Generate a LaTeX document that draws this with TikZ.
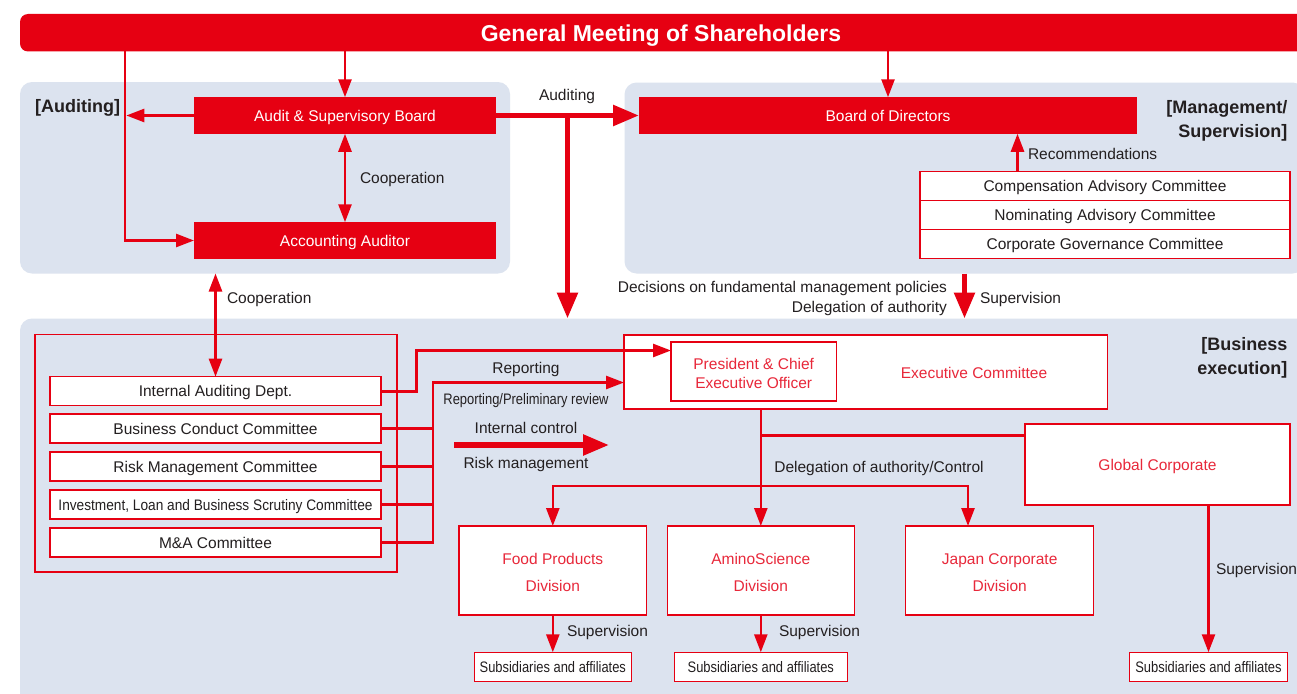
\documentclass[tikz,border=0pt]{standalone}
\usepackage{fontspec}
\setmainfont{Liberation Sans}
\newfontfamily\narrowsf{Liberation Sans}[FakeStretch=0.85]
\newfontfamily\semisf{Liberation Sans}[FakeStretch=0.9]
\usetikzlibrary{arrows.meta}

\definecolor{cred}{HTML}{E60012}
\definecolor{redtxt}{HTML}{E8283A}
\definecolor{panelbg}{HTML}{DCE3EF}
\definecolor{txt}{HTML}{231F20}

\tikzset{
  lbl/.style={font=\fontsize{15.5}{18}\selectfont, text=txt, inner sep=0pt,
    outer sep=0pt, text height=11.2pt, text depth=0pt},
  narrowlbl/.style={lbl, font=\narrowsf\fontsize{15.2}{18}\selectfont},
  redbox/.style={lbl, fill=cred, text=white, draw=none},
  wbox/.style={lbl, draw=cred, fill=white, line width=1.3pt},
  rbox/.style={wbox, text=redtxt},
  groupbox/.style={draw=cred, line width=1.3pt, inner sep=0pt, outer sep=0pt},
  panel/.style={fill=panelbg, draw=none, rounded corners=12pt, inner sep=0pt,
    outer sep=0pt},
  gmbar/.style={fill=cred, draw=none, rounded corners=8pt, inner sep=0pt,
    outer sep=0pt},
  gmtext/.style={font=\bfseries\fontsize{23}{26}\selectfont, text=white,
    inner sep=0pt, text height=16.5pt, text depth=0pt},
  tag/.style={font=\bfseries\fontsize{18}{24}\selectfont, text=txt,
    inner sep=0pt, align=right},
  thinline/.style={draw=cred, line width=2.6pt},
  thinarrow/.style={thinline, -{Triangle[length=18pt,width=13pt]}},
  biarrow/.style={thinline,
    {Triangle[length=18pt,width=13pt]}-{Triangle[length=18pt,width=13pt]}},
  thickarrow/.style={draw=cred, line width=5.5pt,
    -{Triangle[length=26pt,width=20pt]}},
  thickline/.style={draw=cred, line width=5.5pt},
}

\begin{document}
\begin{tikzpicture}[x=1pt,y=-1pt]
\useasboundingbox (0,0) rectangle (1297,693);
\fill[white] (0,0) rectangle (1297,693);

% ---------- background panels ----------
\node[panel, minimum width=490pt, minimum height=191.5pt, anchor=north west] (audp) at (20,82) {};
\node[panel, minimum width=680pt, minimum height=191pt, anchor=north west] (mgp) at (624.5,82.5) {};
\node[panel, minimum width=1300pt, minimum height=420pt, anchor=north west] (busp) at (20,318.5) {};

% ---------- shareholders bar ----------
\node[gmbar, minimum width=1300pt, minimum height=37.5pt, anchor=north west] (gm) at (20,14) {};
\node[gmtext] (gmt) at (661,33) {General Meeting of Shareholders};

% ---------- section tags ----------
\node[tag, anchor=west] (tagaud) at (35,108) {[Auditing]};
\node[tag, anchor=north east] (tagmgt) at (1287.5,100.5) {[Management/\\Supervision]};
\node[tag, anchor=north east] (tagbus) at (1287.5,337.5) {[Business\\execution]};

% ---------- auditing ----------
\node[redbox, minimum width=302pt, minimum height=36.5pt] (asb) at (345,115.5) {Audit \& Supervisory Board};
\node[redbox, minimum width=302pt, minimum height=36.5pt] (aca) at (345,240.5) {Accounting Auditor};

% ---------- management / supervision ----------
\node[redbox, minimum width=498pt, minimum height=36.5pt] (bod) at (888,115.5) {Board of Directors};
\node[wbox, minimum width=370pt, minimum height=29pt] (cac) at (1105,186) {Compensation Advisory Committee};
\node[wbox, minimum width=370pt, minimum height=29pt] (nac) at (1105,215) {Nominating Advisory Committee};
\node[wbox, minimum width=370pt, minimum height=29pt] (cgc) at (1105,244) {Corporate Governance Committee};

% ---------- business execution: committees ----------
\node[groupbox, minimum width=362pt, minimum height=237.3pt] (grp) at (216,453.4) {};
\node[wbox, minimum width=331pt, minimum height=29pt] (iad) at (215.5,391.2) {Internal Auditing Dept.};
\node[wbox, minimum width=331pt, minimum height=29pt] (bcc) at (215.5,428.5) {Business Conduct Committee};
\node[wbox, minimum width=331pt, minimum height=29pt] (rmc) at (215.5,466.5) {Risk Management Committee};
\node[wbox, minimum width=331pt, minimum height=29pt, font=\semisf\fontsize{15.2}{18}\selectfont] (ilb) at (215.5,504.5) {Investment, Loan and Business Scrutiny Committee};
\node[wbox, minimum width=331pt, minimum height=29pt] (mac) at (215.5,542.5) {M\&A Committee};

% ---------- business execution: executive line ----------
\node[wbox, minimum width=483.5pt, minimum height=74pt] (exec) at (865.75,372) {};
\node[lbl, text=redtxt] (exect) at (974,373) {Executive Committee};
\node[rbox, minimum width=165.4pt, minimum height=59pt, align=center,
  font=\fontsize{15.5}{18.7}\selectfont, text height=33.5pt, text depth=0pt] (ceo) at (753.7,371.5) {President \& Chief\\Executive Officer};
\node[rbox, minimum width=265pt, minimum height=81pt] (glob) at (1157.5,464.5) {Global Corporate};

\node[rbox, minimum width=187.6pt, minimum height=89pt, align=center,
  font=\fontsize{15.5}{26.7}\selectfont, text height=41.5pt, text depth=0pt] (food) at (552.8,570.5) {Food Products\\Division};
\node[rbox, minimum width=187pt, minimum height=89pt, align=center,
  font=\fontsize{15.5}{26.7}\selectfont, text height=41.5pt, text depth=0pt] (amino) at (760.8,570.5) {AminoScience\\Division};
\node[rbox, minimum width=188pt, minimum height=89pt, align=center,
  font=\fontsize{15.5}{26.7}\selectfont, text height=41.5pt, text depth=0pt] (japan) at (999.7,570.5) {Japan Corporate\\Division};

\node[wbox, minimum width=157pt, minimum height=29.5pt, font=\narrowsf\fontsize{15.2}{18}\selectfont] (subs1) at (552.8,667) {Subsidiaries and affiliates};
\node[wbox, minimum width=172.7pt, minimum height=29.5pt, font=\narrowsf\fontsize{15.2}{18}\selectfont] (subs2) at (760.8,667) {Subsidiaries and affiliates};
\node[wbox, minimum width=157.5pt, minimum height=29.5pt, font=\narrowsf\fontsize{15.2}{18}\selectfont] (subs3) at (1208.5,667) {Subsidiaries and affiliates};

% ---------- routing points ----------
\coordinate (gmL) at (125,0);
\coordinate (recx) at (1017.5,0);
\coordinate (supx) at (964.5,0);
\coordinate (repx) at (416.5,350.5);
\coordinate (colx) at (433,382.5);
\coordinate (brA) at (760.8,435.5);
\coordinate (brB) at (760.8,486);
\coordinate (japx) at (968,0);
\coordinate (icA) at (454,445);
\coordinate (icB) at (609,445);
\path (asb.east) -- (bod.west) coordinate[pos=0.5] (audj);

% ---------- connectors: top ----------
\draw[thinarrow] (asb.north |- gm.south) -- (asb.north);
\draw[thinarrow] (bod.north |- gm.south) -- (bod.north);
\draw[thinarrow] (gmL |- gm.south) |- (aca.west);
\draw[thinarrow] (asb.west) -- ([xshift=1.3pt]asb.west -| gmL);
\draw[biarrow] (asb.south) -- (aca.north);
\draw[thickarrow] (asb.east) -- (bod.west);
\draw[thickarrow] (audj) -- (audj |- busp.north);
\draw[thinarrow] (recx |- cac.north) -- (recx |- bod.south);
\draw[biarrow] (iad.north |- audp.south) -- (iad.north);
\draw[thickarrow] (supx |- mgp.south) -- (supx |- busp.north);

% ---------- connectors: committees to executive ----------
\draw[thinarrow] (iad.east) -| (repx) -- (repx -| ceo.west);
\foreach \c in {bcc,rmc,ilb} \draw[thinline] (\c.east) -- (\c.east -| colx);
\draw[thinarrow] (mac.east) -| (colx) -- (colx -| exec.west);
\draw[thickarrow] (icA) -- (icB);

% ---------- connectors: executive to divisions ----------
\draw[thinarrow] (brA |- exec.south) -- (amino.north);
\draw[thinline] (brA) -- (brA -| glob.west);
\draw[thinarrow] (brB) -| (food.north);
\draw[thinarrow] (brB) -| (japx |- japan.north);
\draw[thinarrow] (food.south) -- (subs1.north);
\draw[thinarrow] (amino.south) -- (subs2.north);
\draw[thinarrow] (subs3.north |- glob.south) -- (subs3.north);

% ---------- connector labels ----------
\node[lbl] (lAud) at (567,95) {Auditing};
\node[lbl, anchor=west] (lCoop1) at (360,178) {Cooperation};
\node[lbl, anchor=west] (lCoop2) at (227,298) {Cooperation};
\node[lbl, anchor=west] (lRec) at (1028,154) {Recommendations};
\node[lbl, anchor=east] (lDec) at (947,287) {Decisions on fundamental management policies};
\node[lbl, anchor=east] (lDel) at (947,307) {Delegation of authority};
\node[lbl, anchor=west] (lSup0) at (980,298) {Supervision};
\node[lbl] (lRep) at (526,368) {Reporting};
\node[narrowlbl] (lRepPre) at (526,399) {Reporting/Preliminary review};
\node[lbl] (lIC) at (526,428) {Internal control};
\node[lbl] (lRM) at (526,463) {Risk management};
\node[lbl] (lDelC) at (879,467) {Delegation of authority/Control};
\node[lbl, anchor=west] (lSup1) at (567,631) {Supervision};
\node[lbl, anchor=west] (lSup2) at (779,631) {Supervision};
\node[lbl, anchor=west] (lSup3) at (1216,569) {Supervision};
\end{tikzpicture}
\end{document}
